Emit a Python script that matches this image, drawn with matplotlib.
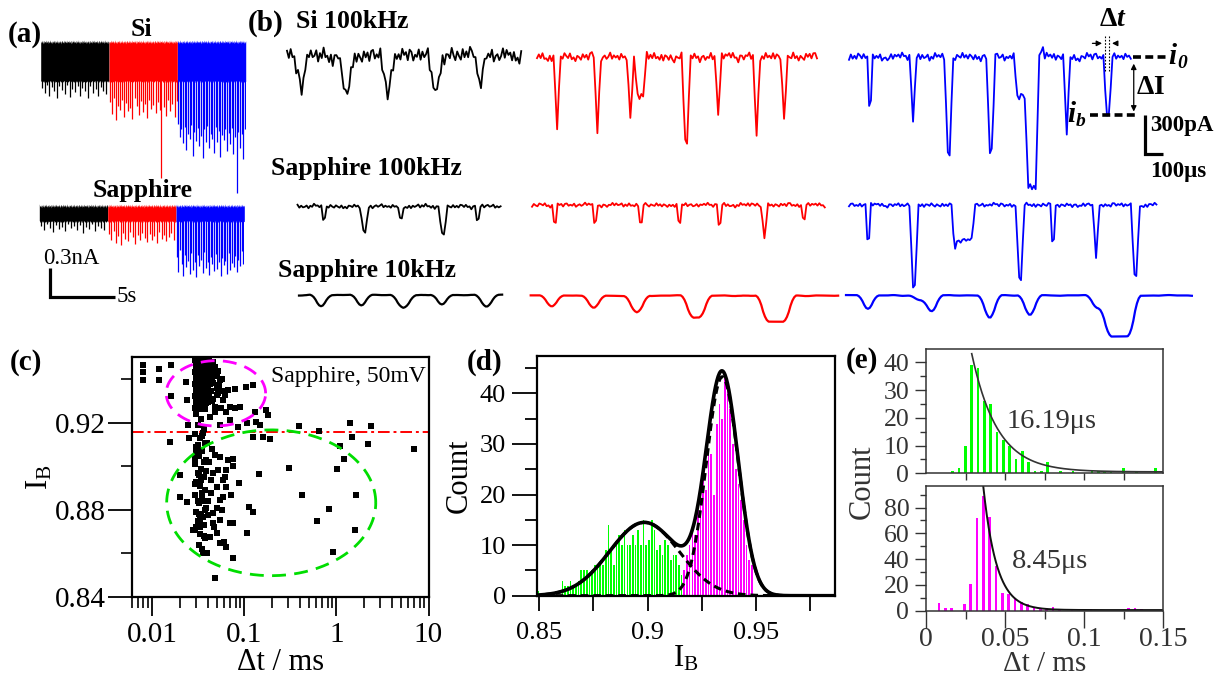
import numpy as np
import matplotlib
matplotlib.use("Agg")
import matplotlib.pyplot as plt
from matplotlib.ticker import FixedLocator, NullFormatter

plt.rcParams['font.family'] = ['Liberation Serif', 'DejaVu Serif']
plt.rcParams['mathtext.fontset'] = 'custom'
plt.rcParams['mathtext.rm'] = 'Liberation Serif'
plt.rcParams['mathtext.it'] = 'Liberation Serif:italic:bold'
plt.rcParams['mathtext.bf'] = 'Liberation Serif:bold'

# ---------------------------------------------------------------- data
# (a) raw current traces: spikes (time within segment in s, depth below band top in nA)
si_black_t = [0.12,0.31,0.5,0.66,0.88,1.05,1.27,1.44,1.63,1.86,2.02,2.25,2.41,2.63,2.84,3.02,3.21,3.43,3.6,3.82,4.0,4.22,4.41,4.6,4.83,5.05]
si_black_d = [0.47,0.52,0.44,0.55,0.46,0.5,0.57,0.45,0.49,0.53,0.44,0.56,0.48,0.51,0.45,0.55,0.47,0.5,0.58,0.45,0.52,0.48,0.55,0.46,0.5,0.53]
si_red_t = [0.06,0.21,0.37,0.52,0.69,0.83,1.0,1.16,1.31,1.48,1.63,1.8,1.97,2.12,2.28,2.45,2.6,2.77,2.93,3.1,3.26,3.41,3.58,3.74,3.9,4.03,4.21,4.37,4.54,4.7,4.87,5.04,5.19]
si_red_d = [0.62,0.74,0.58,0.8,0.66,0.7,0.6,0.77,0.63,0.71,0.68,0.79,0.57,0.66,0.75,0.61,0.72,0.64,0.78,0.6,0.69,0.65,0.73,0.62,0.7,1.41,0.67,0.76,0.6,0.71,0.64,0.77,0.61]
si_blue_t = [0.05,0.18,0.3,0.43,0.55,0.68,0.8,0.93,1.05,1.18,1.3,1.43,1.56,1.68,1.8,1.93,2.05,2.18,2.31,2.43,2.56,2.68,2.81,2.93,3.06,3.18,3.31,3.43,3.56,3.68,3.81,3.93,4.06,4.18,4.31,4.43,4.56,4.68,4.81,4.93,5.06,5.18]
si_blue_d = [0.85,0.98,0.9,1.05,0.88,1.12,0.95,1.0,0.86,1.18,0.93,1.02,0.89,1.08,0.97,1.2,0.9,1.03,0.87,1.1,0.95,1.0,1.15,0.88,1.04,0.92,1.19,0.96,1.01,0.9,1.13,0.94,1.06,0.89,1.16,0.98,1.57,0.93,1.1,0.95,1.21,0.9]
sap_black_t = [0.15,0.38,0.6,0.83,1.05,1.3,1.52,1.75,1.98,2.2,2.43,2.65,2.9,3.12,3.35,3.58,3.8,4.03,4.25,4.5,4.72,4.95]
sap_black_d = [0.2,0.24,0.18,0.22,0.26,0.19,0.23,0.21,0.25,0.18,0.22,0.2,0.24,0.19,0.27,0.21,0.23,0.18,0.25,0.2,0.22,0.24]
sap_red_t = [0.08,0.27,0.45,0.63,0.82,1.0,1.19,1.37,1.56,1.74,1.93,2.11,2.3,2.48,2.67,2.85,3.04,3.22,3.41,3.59,3.78,3.96,4.15,4.33,4.52,4.7,4.89,5.07]
sap_red_d = [0.28,0.34,0.25,0.38,0.3,0.4,0.27,0.33,0.36,0.26,0.31,0.39,0.29,0.35,0.27,0.32,0.37,0.28,0.34,0.3,0.38,0.26,0.33,0.29,0.36,0.31,0.27,0.35]
sap_blue_t = [0.05,0.17,0.3,0.42,0.55,0.67,0.8,0.92,1.05,1.17,1.3,1.42,1.55,1.67,1.8,1.92,2.05,2.17,2.3,2.42,2.55,2.67,2.8,2.92,3.05,3.17,3.3,3.42,3.55,3.67,3.8,3.92,4.05,4.17,4.3,4.42,4.55,4.67,4.8,4.92,5.05,5.17]
sap_blue_d = [0.52,0.68,0.45,0.6,0.72,0.5,0.63,0.56,0.7,0.48,0.66,0.58,0.73,0.5,0.62,0.55,0.69,0.47,0.64,0.57,0.71,0.52,0.6,0.67,0.49,0.65,0.58,0.72,0.53,0.61,0.56,0.7,0.48,0.66,0.59,0.63,0.51,0.68,0.55,0.62,0.46,0.6]
SEG_S = 5.26          # length of each coloured segment, s
SI_BAND = 0.39        # open-pore noise band, nA
SAP_BAND = 0.14

# (b) translocation events: centre time (us), dwell (us), blockade depth (pA)
si100_k_t, si100_k_dw, si100_k_d = [76, 317, 541, 803, 1054], [40, 50, 40, 40, 30], [280, 320, 350, 340, 260]
si100_r_t = [109, 328, 503, 560, 809, 984, 1197, 1344]
si100_r_dw = [20, 20, 15, 50, 25, 15, 20, 12]
si100_r_d = [546, 577, 485, 300, 654, 431, 600, 454]
si100_b_t = [109, 344, 541, 770, 935, 995, 1049, 1186, 1410]
si100_b_dw = [12, 12, 35, 25, 50, 50, 8, 12, 20]
si100_b_d = [692, 469, 731, 738, 300, 1008, -146, 577, 446]
sap100_k_t, sap100_k_dw, sap100_k_d = [139, 361, 560, 789, 980], [15, 25, 15, 28, 15], [177, 192, 192, 215, 192]
sap100_r_t = [118, 342, 588, 803, 1016, 1265, 1481]
sap100_r_dw = [10, 10, 10, 10, 10, 10, 10]
sap100_r_d = [254, 262, 292, 269, 285, 254, 208]
sap100_b_t = [104, 348, 566, 622, 934, 1108, 1344, 1557]
sap100_b_dw = [10, 25, 8, 115, 30, 12, 12, 30]
sap100_b_d = [515, 638, 150, 269, 569, 562, 400, 538]
sap10_k_t, sap10_k_dw, sap10_k_d = [111, 329, 561, 774, 1016], [55, 55, 75, 50, 55], [100, 92, 100, 85, 92]
sap10_r_t, sap10_r_dw, sap10_r_d = [105, 337, 570, 898, 1329], [50, 55, 65, 100, 150], [85, 100, 131, 169, 200]
sap10_b_t = [113, 400, 462, 776, 995, 1370, 1483]
sap10_b_dw = [50, 70, 50, 60, 55, 70, 160]
sap10_b_d = [115, 40, 133, 180, 154, 100, 315]
trace_len_us = {'si100': [1284, 1535, 1546], 'sap100': [1117, 1606, 1683], 'sap10': [1115, 1685, 1896]}

# baseline fluctuation pattern (normalised)
NOISE = [0.35,-0.52,0.81,-0.18,0.07,-0.93,0.62,0.41,-0.66,0.24,-0.09,0.88,-0.57,0.49,-0.31,0.02,0.73,-0.84,0.28,-0.43,
         0.97,-0.21,0.13,-0.62,0.54,-0.89,0.38,0.19,-0.48,0.79,-0.12,-0.71,0.58,0.04,-0.35,0.91,-0.39,0.22,-0.77,0.47,
         0.09,-0.6,0.69,-0.24,0.31,-0.98,0.42,0.63,-0.51,0.11,-0.29,0.84,-0.68,0.17,0.52,-0.44,-0.03,0.86,-0.58,0.33,-0.16]

# (c) scatter of dwell time vs blockade level
dwell_ms = [0.0079,0.0079,0.0079,0.0118,0.0118,0.0158,0.0161,0.0157,0.0198,0.0198,0.0238,0.0230,0.0238,0.0243,0.0250,
    0.029,0.031,0.033,0.035,0.037,0.039,0.041, 0.030,0.032,0.034,0.036,0.038,0.040,0.043,
    0.029,0.031,0.033,0.035,0.037,0.040,0.042, 0.030,0.032,0.034,0.036,0.038,0.041,0.044,
    0.029,0.031,0.033,0.035,0.037,0.039,0.042, 0.030,0.032,0.034,0.036,0.038,0.040,0.043,
    0.029,0.031,0.033,0.035,0.037,0.039,0.041, 0.030,0.032,0.034,0.036,0.038,0.040,
    0.029,0.031,0.033,0.035,0.037,
    0.0497,0.0527,0.0513,0.0586,0.0663,0.0785,0.0693,0.0785,0.0889,0.105,0.124,0.129,0.107,0.135,0.147,0.173,0.181,
    0.124,0.160,0.188,0.0456,0.0475,0.042,0.0537,0.0636,0.0693,0.0852,0.046,0.050,0.057,0.061,0.044,0.048,0.055,
    0.39,0.649,1.39,1.46,2.36,2.21,6.98,1.10,1.21,1.02,0.306,0.144,0.427,1.61,0.832,0.621,1.58,0.906,0.107,0.111,0.124,
    0.0875,0.0753,0.0753,0.0753,0.0753,0.0636,0.0598,0.0537,0.0475,0.0387,0.0351,0.0277,0.030,0.0327,0.0354,0.0399,
    0.0456,0.0537,0.0693,0.0497,0.042,0.0706,0.0636,0.0586,0.0537,0.0497,0.0456,0.0437,0.0456,0.0513,0.0636,0.0663,
    0.0537,0.0475,0.0387,0.0437,0.0497,0.0586,0.0354,0.041,0.044,0.040,0.047,0.057,0.062,
    0.030,0.034,0.031,0.036,0.029,0.033,0.037,0.030,0.035,0.032,0.038,0.029,0.034,0.031,0.036,0.030,0.033,0.037,0.029,
    0.035,0.032,0.038,0.030,0.034,0.031,0.036,0.029,0.033,0.037,0.032,0.035,0.030,0.036,0.032,0.029,0.035,0.031,0.037,
    0.033,0.030,0.034,0.038,0.031,0.035,0.029,0.037,0.032,0.036,
    0.045,0.048,0.052,0.047,0.054,0.050,0.058,0.046]
ib_level = [0.9467,0.9436,0.9398,0.9447,0.9398,0.9467,0.9324,0.9114,0.8961,0.8861,0.8838,0.9386,0.9306,0.9191,0.9130,
    0.9490,0.9485,0.9492,0.9488,0.9490,0.9486,0.9489, 0.9462,0.9458,0.9463,0.9460,0.9457,0.9461,0.9459,
    0.9435,0.9432,0.9437,0.9433,0.9436,0.9431,0.9434, 0.9408,0.9405,0.9409,0.9404,0.9407,0.9403,0.9406,
    0.9380,0.9377,0.9381,0.9376,0.9379,0.9382,0.9378, 0.9352,0.9349,0.9353,0.9350,0.9348,0.9351,0.9347,
    0.9324,0.9321,0.9325,0.9322,0.9320,0.9323,0.9319, 0.9296,0.9293,0.9297,0.9294,0.9292,0.9295,
    0.9268,0.9265,0.9269,0.9266,0.9264,
    0.9421,0.9375,0.9337,0.9306,0.9352,0.9355,0.9275,0.9268,0.9275,0.9367,0.9375,0.9252,0.9199,0.9206,0.9190,0.9260,0.9237,
    0.9137,0.9137,0.9125,0.9383,0.9275,0.9229,0.9190,0.9252,0.9214,0.9183,0.9445,0.9330,0.9400,0.9330,0.9300,0.9250,0.9270,
    0.9187,0.9165,0.9199,0.9137,0.9187,0.9104,0.9079,0.9094,0.9033,0.8987,0.8992,0.8964,0.8869,0.8869,0.8803,0.8751,0.8708,0.8605,0.8696,0.8815,0.8792,
    0.8926,0.9035,0.9000,0.8739,0.8578,0.8631,0.8655,0.8647,0.8486,0.8601,0.8601,0.8708,0.8723,0.8723,0.8769,0.8777,
    0.8739,0.8754,0.8739,0.8693,0.8677,0.8869,0.8907,0.8938,0.8846,0.8808,0.8785,0.8877,0.8969,0.8984,0.8984,0.9030,
    0.9045,0.9053,0.9107,0.8938,0.8907,0.8861,0.9153,0.9020,0.9080,0.8840,0.8720,0.8800,0.8950,
    0.924,0.922,0.919,0.917,0.915,0.913,0.911,0.909,0.907,0.905,0.903,0.901,0.899,0.897,0.895,0.893,0.891,0.889,0.887,
    0.885,0.883,0.881,0.879,0.877,0.875,0.873,0.871,0.869,0.867,0.864,0.862,0.906,0.902,0.896,0.892,0.888,0.884,0.880,
    0.876,0.872,0.894,0.898,0.910,0.914,0.904,0.884,0.878,0.868,
    0.9480,0.9455,0.9440,0.9415,0.9395,0.9360,0.9345,0.9310]
ib_threshold = 0.916
fast_group = dict(log_dt=-1.31, log_half=0.54, ib=0.9336, ib_half=0.015)
slow_group = dict(log_dt=-0.709, log_half=1.136, ib=0.8833, ib_half=0.0335)

# (d) blockade histogram
IB_BIN = 0.00125
green_first = 0.8494
green_counts = [1,0,0,0,0,0,0,0,0,3,2,2,3,2,2,3,5,5,5,4,5,6,6,6,6,9,14,9,6,10,12,10,13,10,10,12,10,13,10,15,10,11,15,13,9,10,8,11,10,7,8,8,6,4]
magenta_first = 0.9169
magenta_counts = [5,8,10,14,12,17,20,24,21,29,28,20,34,38,35,43,42,37,30,25,22,19,15,10,7,6]
fit_shallow = dict(amp=14.5, mu=0.8985, sigma=0.0160)
fit_deep = dict(amp=43.3, mu=0.9345, sigma=0.0074)

# (e) dwell time histograms
DT_BIN = 0.004
shallow_first = 0.0169
shallow_counts = [1,2,10,39,38,26,25,15,12,10,5,8,4,1,1,4,0,1,0,1,0,0,1,1,1,1,0,2,0,1,0,0,2]
deep_first = 0.0082
deep_counts = [6,2,2,0,5,21,72,89,73,35,14,13,10,7,5,3,2,2,3,1,0,1,0,0,1,0,0,0,0,0,2,2,1]
tau_shallow, tau_deep = 0.01619, 0.00845        # ms
fit_shallow_start, fit_shallow_amp = 0.0289, 42.6
fit_deep_start, fit_deep_amp = 0.0362, 96.0

# ---------------------------------------------------------------- layout helpers
W, H = 1224, 675
fig = plt.figure(figsize=(W / 100, H / 100), dpi=100)


def box(l, t, r, b):
    return [l / W, 1 - b / H, (r - l) / W, (b - t) / H]


def ftext(px, py, s, **kw):
    return fig.text(px / W, 1 - py / H, s, **kw)


def trace_axes(left_px, base_py, xr, yr, x_per_px, y_per_px):
    l = left_px + xr[0] / x_per_px
    r = left_px + xr[1] / x_per_px
    t = base_py - yr[1] / y_per_px
    b = base_py - yr[0] / y_per_px
    ax = fig.add_axes(box(l, t, r, b))
    ax.set_xlim(*xr)
    ax.set_ylim(*yr)
    ax.axis('off')
    ax.patch.set_alpha(0)
    return ax


NZ = np.asarray(NOISE)

# ---------------------------------------------------------------- (a)
S_PER_PX = 5 / 65.0
NA_PER_PX = 0.3 / 28.7
seg_colors = ['black', 'red', 'blue']


def raw_trace(ax, spikes, band, shift):
    for k, ((ts, ds), col) in enumerate(zip(spikes, seg_colors)):
        off = k * SEG_S
        tt = np.arange(0, SEG_S + 1e-9, 0.035)
        idx = (np.arange(len(tt)) + shift + 7 * k) % len(NZ)
        top = 0.012 + 0.022 * NZ[idx]
        bot = -band - 0.025 * np.abs(NZ[(idx + 13) % len(NZ)])
        ax.fill_between(off + tt, bot, top, color=col, lw=0)
        ax.vlines(off + np.asarray(ts), -band, -np.asarray(ds), color=col, lw=0.9)


ax_si = trace_axes(40.7, 43, (0, 3 * SEG_S), (-1.7, 0.1), S_PER_PX, NA_PER_PX)
raw_trace(ax_si, [(si_black_t, si_black_d), (si_red_t, si_red_d), (si_blue_t, si_blue_d)], SI_BAND, 0)
ax_sap = trace_axes(39.3, 207, (0, 3 * SEG_S), (-1.0, 0.1), S_PER_PX, NA_PER_PX)
raw_trace(ax_sap, [(sap_black_t, sap_black_d), (sap_red_t, sap_red_d), (sap_blue_t, sap_blue_d)], SAP_BAND, 20)
# scale bar 0.3 nA / 5 s
sb_t, sb_top = 0.82, -0.64
ax_sap.plot([sb_t, sb_t, sb_t + 5], [sb_top, sb_top - 0.3, sb_top - 0.3], color='black', lw=2.3,
            solid_capstyle='butt', solid_joinstyle='miter', clip_on=False)

ftext(8, 34, '(a)', fontsize=21, fontweight='bold', va='center')
ftext(141, 30, 'Si', fontsize=18.5, fontweight='bold', ha='center', va='center')
ftext(143, 190, 'Sapphire', fontsize=18.5, fontweight='bold', ha='center', va='center')
ftext(43, 259, '0.3nA', fontsize=16.5, va='center')
ftext(117, 296, '5s', fontsize=16.5, va='center')

# ---------------------------------------------------------------- (b)
US_PER_PX = 100 / 18.3
PA_PER_PX = 300 / 39.0


def smooth(y, n, passes):
    for _ in range(passes):
        pad = np.pad(y, n, mode='edge')
        y = np.convolve(pad, np.ones(n) / n, mode='same')[n:-n]
    return y


def event_trace(length, ts, dws, ds, smooth_n, noise_amp, shift, prefilter=False):
    t = np.arange(0, length + 1e-9, 10.0)
    y = np.zeros_like(t)
    for tc, dw, d in zip(ts, dws, ds):
        y[np.abs(t - tc) <= dw / 2] -= d
    idx = (np.arange(len(t)) + shift) % len(NZ)
    coarse = NZ[(np.arange(len(t) // 5 + 2) + 3 * shift) % len(NZ)]
    slow = np.interp(np.arange(len(t)), np.arange(len(coarse)) * 5, coarse)
    noise = noise_amp * (0.75 * NZ[idx] + 0.5 * slow)
    if prefilter:
        y = smooth(y + noise, smooth_n, 2)
    else:
        if smooth_n > 1:
            y = smooth(y, smooth_n, 1)
        y = y + noise
    return t, y


rows = [
    ('si100', [(287, 55), (537, 57), (849, 57)],
     [(si100_k_t, si100_k_dw, si100_k_d, 4, 75), (si100_r_t, si100_r_dw, si100_r_d, 2, 42),
      (si100_b_t, si100_b_dw, si100_b_d, 2, 38)], False),
    ('sap100', [(297.5, 206.5), (532, 205), (849, 205)],
     [(sap100_k_t, sap100_k_dw, sap100_k_d, 2, 20), (sap100_r_t, sap100_r_dw, sap100_r_d, 2, 20),
      (sap100_b_t, sap100_b_dw, sap100_b_d, 2, 20)], False),
    ('sap10', [(299, 295), (530.7, 295.7), (846, 295.5)],
     [(sap10_k_t, sap10_k_dw, sap10_k_d, 4, 10), (sap10_r_t, sap10_r_dw, sap10_r_d, 4, 10),
      (sap10_b_t, sap10_b_dw, sap10_b_d, 4, 10)], True),
]
marked_ax = None
for r, (key, origins, evs, pre) in enumerate(rows):
    for c, ((lx, by), (ts, dws, ds, sm, na), col) in enumerate(zip(origins, evs, seg_colors)):
        L = trace_len_us[key][c]
        ax = trace_axes(lx, by, (-100, L + 900), (-1200, 400), US_PER_PX, PA_PER_PX)
        t, y = event_trace(L, ts, dws, ds, sm, na, 11 * r + 17 * c, pre)
        ax.plot(t, y, color=col, lw=1.6 if key == 'sap10' else 1.3, solid_joinstyle='round')
        if key == 'si100' and c == 2:
            marked_ax = ax

# annotation of the marked event (last event of the Si blue trace)
ax = marked_ax
ev_t, ev_dw, ev_d = si100_b_t[-1], si100_b_dw[-1], si100_b_d[-1]
L = trace_len_us['si100'][2]
for xv in (ev_t - 12, ev_t + 12):
    ax.plot([xv, xv], [-110, 170], color='black', lw=0.8, ls=(0, (1.5, 1.5)), clip_on=False)
ax.annotate('', xy=(ev_t - 12, 105), xytext=(ev_t - 95, 105),
            arrowprops=dict(arrowstyle='-|>', color='black', lw=0.9, mutation_scale=8))
ax.annotate('', xy=(ev_t + 12, 105), xytext=(ev_t + 60, 105),
            arrowprops=dict(arrowstyle='-|>', color='black', lw=0.9, mutation_scale=8))
ax.plot([L + 5, L + 190], [0, 0], color='black', lw=2.6, ls=(0, (2.2, 1.2)))
ax.plot([ev_t - 95, L + 20], [-ev_d, -ev_d], color='black', lw=2.6, ls=(0, (2.2, 1.2)))
ax.annotate('', xy=(L + 10, -ev_d + 5), xytext=(L + 10, -30),
            arrowprops=dict(arrowstyle='<|-|>', color='black', lw=0.9, mutation_scale=8))
sb_x = L + 70
ax.plot([sb_x, sb_x, sb_x + 100], [-ev_d, -ev_d - 300, -ev_d - 300], color='black', lw=2.3,
        solid_capstyle='butt', solid_joinstyle='miter')

BI = dict(fontweight='bold', fontstyle='italic')
ftext(248, 23, '(b)', fontsize=21, fontweight='bold', va='center')
ftext(296, 22, 'Si 100kHz', fontsize=18.5, fontweight='bold', va='center')
ftext(271, 168, 'Sapphire 100kHz', fontsize=18.5, fontweight='bold', va='center')
ftext(278, 270, 'Sapphire 10kHz', fontsize=18.5, fontweight='bold', va='center')
ftext(1113, 19, r'$\mathbf{\Delta}t$', fontsize=20, ha='center', va='center')
ftext(1168, 56, 'i', fontsize=21, va='center', **BI)
ftext(1177, 64, '0', fontsize=14, va='center', **BI)
ftext(1136, 88, r'$\mathbf{\Delta I}$', fontsize=20, va='center')
ftext(1067, 114, 'i', fontsize=21, va='center', **BI)
ftext(1076, 122, 'b', fontsize=14, va='center', **BI)
ftext(1150, 125, '300pA', fontsize=16.5, fontweight='bold', va='center')
ftext(1150, 172, '100μs', fontsize=16.5, fontweight='bold', va='center')

# ---------------------------------------------------------------- (c)
axc = fig.add_axes(box(132, 357, 428.5, 597))
axc.set_xscale('log')
axc.scatter(dwell_ms, ib_level, marker='s', s=18, c='black', linewidths=0, zorder=3)
axc.axhline(ib_threshold, color='red', lw=1.4, ls=(0, (6, 2, 1.5, 2)), zorder=2)
th = np.linspace(0, 2 * np.pi, 300)
for grp, col in ((fast_group, '#ff00ff'), (slow_group, '#00dd00')):
    axc.plot(10 ** (grp['log_dt'] + grp['log_half'] * np.cos(th)), grp['ib'] + grp['ib_half'] * np.sin(th),
             color=col, lw=2.0, ls=(0, (5, 3)), zorder=4)
axc.set_xlim(0.006, 10)
axc.set_ylim(0.84, 0.9503)
axc.set_xticks([0.01, 0.1, 1, 10])
axc.set_xticklabels(['0.01', '0.1', '1', '10'])
axc.xaxis.set_minor_locator(FixedLocator([m * 10.0 ** e for e in (-3, -2, -1, 0) for m in range(2, 10)
                                          if 0.006 <= m * 10.0 ** e <= 10]))
axc.xaxis.set_minor_formatter(NullFormatter())
axc.set_yticks([0.84, 0.88, 0.92])
axc.set_yticklabels(['0.84', '0.88', '0.92'])
axc.yaxis.set_minor_locator(FixedLocator([0.86, 0.90, 0.94]))
axc.tick_params(which='major', direction='out', length=14, width=1.3, labelsize=21, pad=4)
axc.tick_params(axis='y', which='major', length=17, pad=2)
axc.tick_params(which='minor', direction='out', length=8, width=1.2)
for s in axc.spines.values():
    s.set_linewidth(1.6)
axc.text(0.47, 0.92, 'Sapphire, 50mV', transform=axc.transAxes, fontsize=17, va='center')
axc.set_xlabel('Δt / ms', fontsize=22, labelpad=0)
axc.set_ylabel(r'I$_\mathregular{B}$', fontsize=22, labelpad=0)
ftext(10, 362, '(c)', fontsize=21, fontweight='bold', va='center')

# ---------------------------------------------------------------- (d)
axd = fig.add_axes(box(536.7, 356, 835, 595.7))
gx = green_first + IB_BIN * np.arange(len(green_counts))
mx = magenta_first + IB_BIN * np.arange(len(magenta_counts))
axd.bar(gx, green_counts, width=IB_BIN * 0.62, color='#00ff00', linewidth=0)
axd.bar(mx, magenta_counts, width=IB_BIN * 0.62, color='#ff00ff', linewidth=0)
xx = np.linspace(0.846, 0.99, 500)
g1 = fit_shallow['amp'] * np.exp(-(xx - fit_shallow['mu']) ** 2 / (2 * fit_shallow['sigma'] ** 2))
g2 = fit_deep['amp'] * np.exp(-(xx - fit_deep['mu']) ** 2 / (2 * fit_deep['sigma'] ** 2))
axd.plot(xx, g1, color='black', lw=2.2, ls=(0, (2.5, 1.6)))
axd.plot(xx, g2, color='black', lw=2.2, ls=(0, (2.5, 1.6)))
axd.plot(xx, g1 + g2, color='black', lw=2.6)
axd.set_xlim(0.8488, 0.9865)
axd.set_ylim(0, 47.4)
axd.set_xticks([0.85, 0.9, 0.95])
axd.set_xticklabels(['0.85', '0.9', '0.95'])
axd.xaxis.set_minor_locator(FixedLocator([0.875, 0.925, 0.975]))
axd.set_yticks([0, 10, 20, 30, 40])
axd.yaxis.set_minor_locator(FixedLocator([5, 15, 25, 35, 45]))
axd.tick_params(which='both', direction='out', width=1.3, labelsize=19)
axd.tick_params(axis='x', which='both', length=11, pad=8)
axd.tick_params(axis='y', which='major', length=18, pad=4)
axd.tick_params(axis='y', which='minor', length=9)
for s in axd.spines.values():
    s.set_linewidth(1.6)
axd.set_xlabel(r'I$_\mathregular{B}$', fontsize=22, labelpad=0)
axd.set_ylabel('Count', fontsize=22, labelpad=4)
ftext(467, 362, '(d)', fontsize=21, fontweight='bold', va='center')

# ---------------------------------------------------------------- (e)
GRAY = '#333333'
axe1 = fig.add_axes(box(926, 349, 1163.3, 473.3))
axe2 = fig.add_axes(box(926, 485.7, 1163.3, 610.7))
sx = shallow_first + DT_BIN * np.arange(len(shallow_counts))
dx = deep_first + DT_BIN * np.arange(len(deep_counts))
axe1.bar(sx, shallow_counts, width=DT_BIN * 0.42, color='#00ff00', linewidth=0)
axe2.bar(dx, deep_counts, width=DT_BIN * 0.42, color='#ff00ff', linewidth=0)
x1 = np.linspace(fit_shallow_start, 0.15, 300)
axe1.plot(x1, 0.5 + fit_shallow_amp * np.exp(-(x1 - fit_shallow_start) / tau_shallow), color=GRAY, lw=1.2)
x2 = np.linspace(fit_deep_start, 0.15, 300)
axe2.plot(x2, 0.5 + fit_deep_amp * np.exp(-(x2 - fit_deep_start) / tau_deep), color='#111111', lw=1.4)
axe1.set_ylim(0, 44.8)
axe2.set_ylim(0, 97)
for ax in (axe1, axe2):
    ax.set_xlim(0, 0.15)
    for s in ax.spines.values():
        s.set_linewidth(1.1)
        s.set_color(GRAY)
    ax.tick_params(which='both', direction='out', width=1.0, color=GRAY, labelcolor=GRAY)
    ax.tick_params(axis='y', which='major', length=8, labelsize=18.5, pad=4)
    ax.tick_params(axis='y', which='minor', length=4)
axe1.set_yticks([0, 10, 20, 30, 40])
axe1.yaxis.set_minor_locator(FixedLocator([5, 15, 25, 35]))
axe1.set_xticks([0.025, 0.05, 0.075, 0.1, 0.125])
axe1.tick_params(axis='x', which='major', length=5, labelbottom=False)
axe2.set_yticks([0, 20, 40, 60, 80])
axe2.yaxis.set_minor_locator(FixedLocator([10, 30, 50, 70, 90]))
axe2.set_xticks([0, 0.05, 0.1, 0.15])
axe2.set_xticklabels(['0', '0.05', '0.1', '0.15'])
axe2.xaxis.set_minor_locator(FixedLocator([0.025, 0.075, 0.125]))
axe2.tick_params(axis='x', which='major', length=12, labelsize=20, pad=0)
axe2.tick_params(axis='x', which='minor', length=6)
axe1.text(0.34, 0.415, f'{tau_shallow * 1000:.2f}μs', transform=axe1.transAxes, fontsize=20.5,
          color=GRAY, va='center')
axe2.text(0.36, 0.39, f'{tau_deep * 1000:.2f}μs', transform=axe2.transAxes, fontsize=20.5,
          color=GRAY, va='center')
ftext(1045, 664, 'Δt / ms', fontsize=21, color=GRAY, ha='center', va='center')
ftext(862, 482, 'Count', fontsize=22, color=GRAY, rotation=90, ha='center', va='center')
ftext(846, 361, '(e)', fontsize=21, fontweight='bold', va='center')

fig.savefig('out.png', dpi=100)
